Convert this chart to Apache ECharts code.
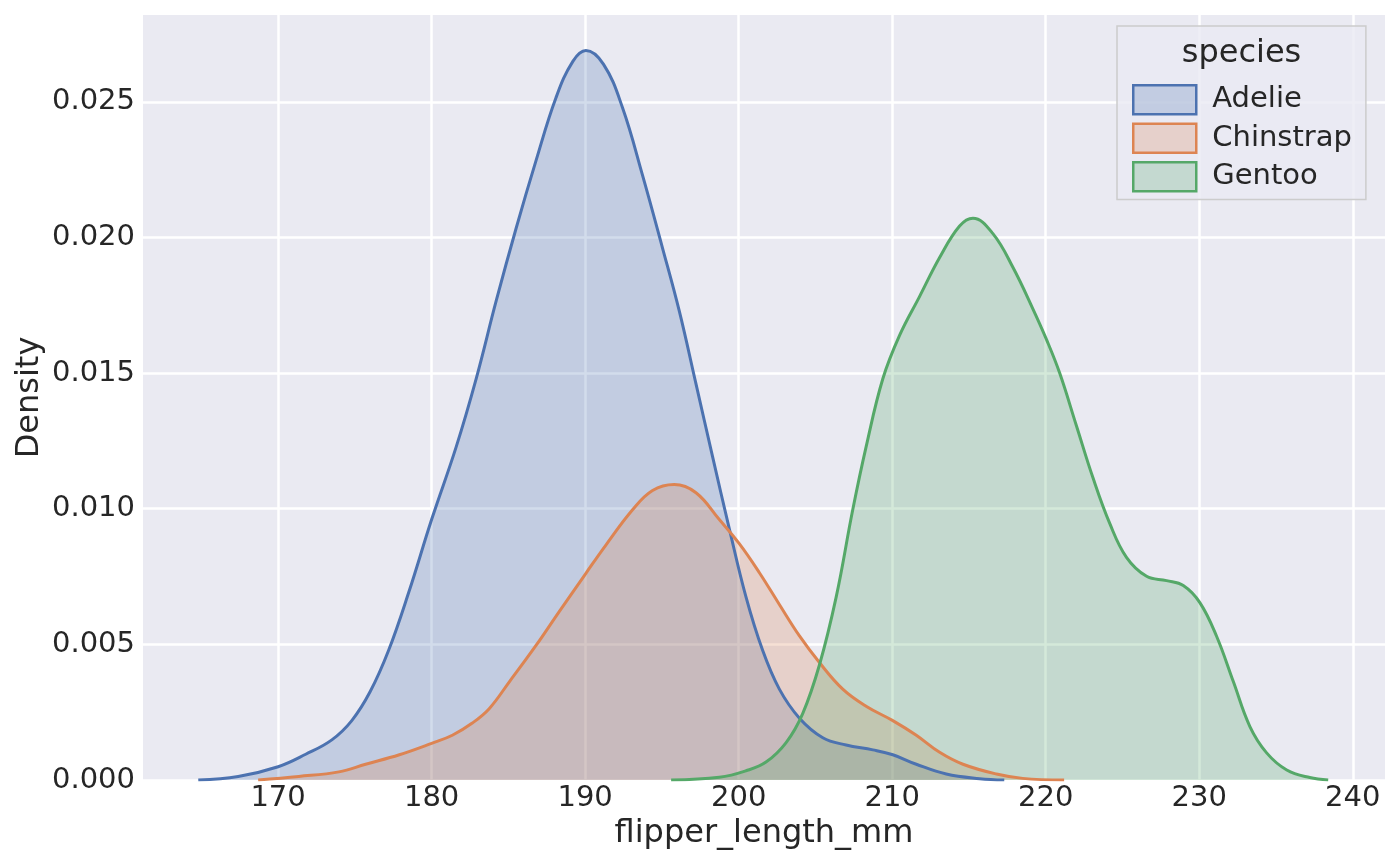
<!DOCTYPE html>
<html>
<head>
<meta charset="utf-8">
<script src="https://cdn.jsdelivr.net/npm/echarts@6/dist/echarts.min.js"></script>
<style>
html,body{margin:0;padding:0;background:#fff;}
#chart{width:1400px;height:866px;}
</style>
</head>
<body>
<div id="chart"></div>
<script>
const speciesNames = ['Adelie', 'Chinstrap', 'Gentoo'];
const seriesColors = ['#4C72B0', '#DD8452', '#55A868'];
const fillColors = ['rgba(76,114,176,0.25)', 'rgba(221,132,82,0.25)', 'rgba(85,168,104,0.25)'];

const adelieX = [164.8, 167.4, 170.0, 171.8, 173.5, 174.8, 176.0, 177.2, 178.5, 180.0, 181.6, 182.9, 184.2, 185.5, 186.8, 188.1, 189.2, 190.05, 191.2, 192.43, 193.74, 195.04, 196.13, 197.22, 198.3, 199.4, 200.48, 201.56, 202.65, 203.96, 205.48, 207.0, 208.74, 210.04, 211.57, 213.52, 215.7, 217.3];
const adelieY = [0, 0.00013, 0.00049, 0.00095, 0.00148, 0.00219, 0.00326, 0.00478, 0.0069, 0.0096, 0.01228, 0.01479, 0.01765, 0.02033, 0.02283, 0.02515, 0.02649, 0.02689, 0.02638, 0.02479, 0.02229, 0.01961, 0.01729, 0.0146, 0.01192, 0.00924, 0.00674, 0.00478, 0.00335, 0.00228, 0.00156, 0.00129, 0.00111, 0.00093, 0.00058, 0.00022, 0.00005, 0];

const chinstrapX = [168.7, 171.35, 173.96, 175.7, 177.9, 180.0, 181.35, 182.65, 183.75, 185.05, 186.8, 188.3, 190.05, 191.35, 193.09, 194.39, 195.8, 197.22, 198.74, 200.04, 201.35, 202.65, 203.96, 205.26, 206.78, 208.3, 210.04, 211.57, 213.09, 214.61, 216.79, 218.5, 221.2];
const chinstrapY = [0, 0.00013, 0.0003, 0.00058, 0.00093, 0.00135, 0.00165, 0.0021, 0.00263, 0.00361, 0.00496, 0.0062, 0.00762, 0.00866, 0.00996, 0.01067, 0.01089, 0.01059, 0.0096, 0.00871, 0.00764, 0.00647, 0.00531, 0.00433, 0.00335, 0.00272, 0.00219, 0.00165, 0.00102, 0.00058, 0.00022, 0.00006, 0];

const gentooX = [195.6, 198.74, 200.48, 201.78, 203.09, 204.17, 205.26, 206.35, 207.43, 208.3, 209.39, 210.48, 211.78, 213.09, 214.39, 215.26, 216.56, 217.87, 219.17, 220.04, 220.91, 222.0, 223.09, 224.17, 225.26, 226.57, 227.87, 228.96, 230.04, 231.13, 232.22, 233.3, 234.39, 235.7, 237.2, 238.4];
const gentooY = [0, 0.0001, 0.00034, 0.00066, 0.00138, 0.00245, 0.00424, 0.00674, 0.00996, 0.01228, 0.01479, 0.01639, 0.01782, 0.01926, 0.02042, 0.02071, 0.02014, 0.01889, 0.01736, 0.01625, 0.015, 0.01306, 0.01112, 0.00946, 0.00821, 0.00751, 0.00735, 0.00717, 0.00654, 0.0053, 0.00363, 0.00197, 0.001, 0.00037, 0.00009, 0];

const xName = 'flipper_length_mm';
const yName = 'Density';
const legendTitle = 'species';

const FONT = '"DejaVu Sans", "Liberation Sans", sans-serif';
const TEXT = '#262626';

const zip = (xs, ys) => xs.map((x, i) => [x, ys[i]]);
const allX = [adelieX, chinstrapX, gentooX];
const allY = [adelieY, chinstrapY, gentooY];

const near = (v, step) => Math.abs(v / step - Math.round(v / step)) < 1e-6;

const chart = echarts.init(document.getElementById('chart'), null, {renderer: 'canvas'});
chart.setOption({
  animation: false,
  backgroundColor: '#ffffff',
  textStyle: {fontFamily: FONT, color: TEXT},
  grid: {left: 143, right: 15, top: 15, bottom: 86, show: true, backgroundColor: '#EAEAF2', borderWidth: 0},
  xAxis: {
    type: 'value', min: 161.2, max: 242.1, splitNumber: 8, minInterval: 10, maxInterval: 10,
    name: xName, nameLocation: 'middle', nameGap: 38, nameMoveOverlap: false,
    nameTextStyle: {fontSize: 32, color: TEXT, fontFamily: FONT},
    axisLine: {show: false}, axisTick: {show: false},
    axisLabel: {fontSize: 29, color: TEXT, fontFamily: FONT, margin: 4,
      formatter: v => near(v, 10) ? String(Math.round(v)) : ''},
    splitLine: {show: true, showMinLine: false, showMaxLine: false, lineStyle: {color: '#ffffff', width: 2.5}}
  },
  yAxis: {
    type: 'value', min: 0, max: 0.0282, splitNumber: 5, minInterval: 0.005, maxInterval: 0.005,
    name: yName, nameLocation: 'middle', nameGap: 97, nameMoveOverlap: false,
    nameTextStyle: {fontSize: 32, color: TEXT, fontFamily: FONT},
    axisLine: {show: false}, axisTick: {show: false},
    axisLabel: {fontSize: 29, color: TEXT, fontFamily: FONT, margin: 8,
      formatter: v => near(v, 0.005) ? v.toFixed(3) : ''},
    splitLine: {show: true, showMaxLine: false, lineStyle: {color: '#ffffff', width: 2.5}}
  },
  legend: {
    orient: 'vertical', left: 1117, top: 26, padding: [58, 14, 7, 15],
    itemWidth: 63, itemHeight: 29, itemGap: 7, icon: 'rect',
    backgroundColor: 'rgba(234,234,242,0.8)', borderColor: '#cccccc', borderWidth: 1.5,
    textStyle: {fontSize: 29, color: TEXT, fontFamily: FONT, padding: [0, 0, 0, 11]},
    selectedMode: false,
    data: speciesNames.map((n, i) => ({
      name: n, icon: 'rect',
      itemStyle: {color: fillColors[i], borderColor: seriesColors[i], borderWidth: 2.5}
    }))
  },
  graphic: [{
    type: 'text', x: 1241.5, y: 54, z: 100,
    style: {text: legendTitle, font: '32px ' + FONT, fill: TEXT, textAlign: 'center', textVerticalAlign: 'middle'}
  }],
  series: speciesNames.map((n, i) => ({
    name: n, type: 'line', data: zip(allX[i], allY[i]),
    smooth: 0.4, showSymbol: false, symbol: 'none',
    lineStyle: {color: seriesColors[i], width: 3},
    itemStyle: {color: seriesColors[i]},
    areaStyle: {color: seriesColors[i], opacity: 0.25},
    emphasis: {disabled: true}, silent: true
  }))
});
</script>
</body>
</html>
